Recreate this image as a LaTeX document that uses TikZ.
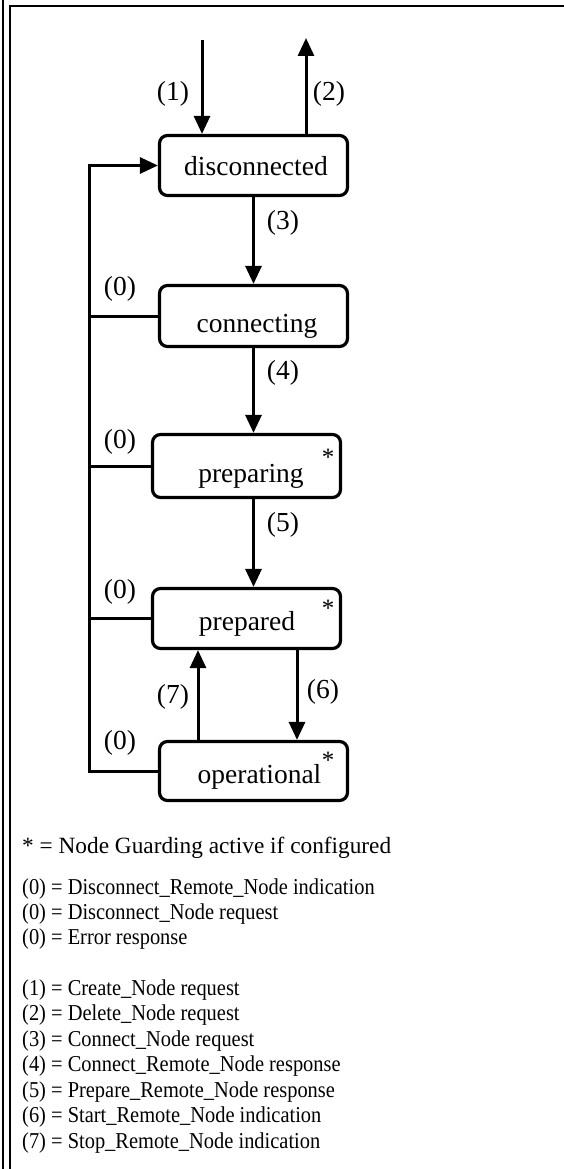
\documentclass[tikz,border=0pt]{standalone}
\usepackage{fontspec}
\setmainfont{Liberation Serif}
\newfontfamily\legfont[FakeStretch=0.9]{Liberation Serif}
\usetikzlibrary{arrows.meta}
\begin{document}
\begin{tikzpicture}[x=1pt,y=-1pt,
  statebox/.style={draw, line width=3.2pt, rounded corners=8pt, inner sep=0pt, minimum width=188pt},
  statetext/.style={anchor=base, inner sep=0pt, font=\fontsize{27.5}{30}\selectfont},
  lbl/.style={inner sep=0pt, font=\fontsize{27.5}{30}\selectfont},
  star/.style={anchor=base, inner sep=0pt, font=\fontsize{25}{27}\selectfont},
  flow/.style={line width=3pt, -{Triangle[length=18pt,width=16pt]}},
  plainline/.style={line width=3pt},
  framel/.style={line width=1.8pt},
  legtitle/.style={anchor=base west, inner sep=0pt, font=\fontsize{23.3}{25}\selectfont},
  leg/.style={anchor=base west, inner sep=0pt, font=\legfont\fontsize{22.7}{25}\selectfont}
]
\useasboundingbox (0,0) rectangle (564,1169);
% frame
\draw[framel] (3,0) -- (3,1169);
\draw[framel] (10,1169) -- (10,6) -- (564,6);

% state boxes
\node[statebox, minimum height=60pt] (dis) at (253.5,165.5) {};
\node[statebox, minimum height=61pt] (con) at (253.5,316) {};
\node[statebox, minimum height=63pt] (preping) at (246.5,466) {};
\node[statebox, minimum height=60pt] (prepd) at (246.5,618.5) {};
\node[statebox, minimum height=59pt] (oper) at (253.5,771) {};

% state texts
\node[statetext] (tdis) at (256,175.5) {disconnected};
\node[statetext] (tcon) at (257,332) {connecting};
\node[statetext] (tpreping) at (251,482) {preparing};
\node[statetext] (tprepd) at (247,630) {prepared};
\node[statetext] (toper) at (259.5,783) {operational};
\node[star] (s1) at (328,465) {*};
\node[star] (s2) at (328,616) {*};
\node[star] (s3) at (328,768) {*};

% connectors
\coordinate (in1) at (202,40);
\coordinate (out2) at (306,38);
\coordinate (c6) at (297,0);
\coordinate (c7) at (198,0);
\coordinate (bus) at (89,0);
\draw[flow] (in1) -- (in1 |- dis.north);
\draw[flow] (out2 |- dis.north) -- (out2);
\draw[flow] (dis.south) -- (con.north);
\draw[flow] (con.south) -- (con.south |- preping.north);
\draw[flow] (con.south |- preping.south) -- (con.south |- prepd.north);
\draw[flow] (c6 |- prepd.south) -- (c6 |- oper.north);
\draw[flow] (c7 |- oper.north) -- (c7 |- prepd.south);
\draw[flow] (oper.west) -| (bus |- dis.west) -- (dis.west);
\draw[plainline] (con.west) -- (con.west -| bus);
\draw[plainline] (preping.west) -- (preping.west -| bus);
\draw[plainline] (prepd.west) -- (prepd.west -| bus);

% labels
\node[lbl] (l1) at (173,94) {(1)};
\node[lbl] (l2) at (329,94) {(2)};
\node[lbl] (l3) at (283,223) {(3)};
\node[lbl] (l4) at (283,373) {(4)};
\node[lbl] (l5) at (283,525) {(5)};
\node[lbl] (l6) at (323,692) {(6)};
\node[lbl] (l7) at (173,697) {(7)};
\node[lbl] (l0a) at (120,289) {(0)};
\node[lbl] (l0b) at (120,442) {(0)};
\node[lbl] (l0c) at (120,592) {(0)};
\node[lbl] (l0d) at (120,743) {(0)};

% legend
\node[legtitle] (g0) at (22,853) {* = Node Guarding active if configured};
\node[leg] (g1) at (22,894) {(0) = Disconnect\_Remote\_Node indication};
\node[leg] (g2) at (22,919) {(0) = Disconnect\_Node request};
\node[leg] (g3) at (22,944.5) {(0) = Error response};
\node[leg] (g4) at (22,995) {(1) = Create\_Node request};
\node[leg] (g5) at (22,1020.5) {(2) = Delete\_Node request};
\node[leg] (g6) at (22,1046) {(3) = Connect\_Node request};
\node[leg] (g7) at (22,1071.5) {(4) = Connect\_Remote\_Node response};
\node[leg] (g8) at (22,1097) {(5) = Prepare\_Remote\_Node response};
\node[leg] (g9) at (22,1122.5) {(6) = Start\_Remote\_Node indication};
\node[leg] (g10) at (22,1148) {(7) = Stop\_Remote\_Node indication};
\end{tikzpicture}
\end{document}
